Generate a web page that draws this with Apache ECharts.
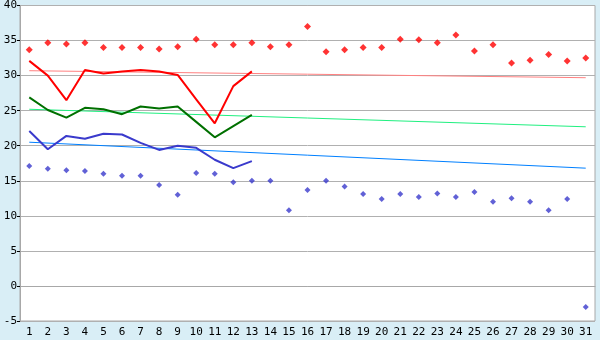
<!DOCTYPE html>
<html><head><meta charset="utf-8">
<script src="https://cdn.jsdelivr.net/npm/echarts@6/dist/echarts.min.js"></script>
<style>html,body{margin:0;padding:0;background:#d9eef6;}#c{width:600px;height:340px;}</style>
</head><body><div id="c"></div>
<script>
const categories = ['1','2','3','4','5','6','7','8','9','10','11','12','13','14','15','16','17','18','19','20','21','22','23','24','25','26','27','28','29','30','31'];
const redPoints = [33.7,34.7,34.5,34.7,34.0,34.0,34.0,33.8,34.1,35.2,34.4,34.4,34.7,34.1,34.4,37.0,33.4,33.7,34.0,34.0,35.2,35.1,34.7,35.8,33.5,34.4,31.8,32.2,33.0,32.1,32.5];
const bluePoints = [17.1,16.7,16.5,16.4,16.0,15.7,15.7,14.4,13.0,16.1,16.0,14.8,15.0,15.0,10.8,13.7,15.0,14.2,13.1,12.4,13.1,12.7,13.2,12.7,13.4,12.0,12.5,12.0,10.8,12.4,-3.0];
const redLine = [32.1,30.0,26.5,30.8,30.3,30.6,30.8,30.6,30.1,26.6,23.2,28.5,30.6];
const greenLine = [26.9,25.1,24.0,25.4,25.2,24.5,25.6,25.3,25.6,23.4,21.2,22.8,24.4];
const blueLine = [22.1,19.5,21.4,21.0,21.7,21.6,20.4,19.4,20.0,19.7,18.0,16.8,17.8];
// trend endpoints (first and last day)
const redTrend = [30.7, 29.7];
const greenTrend = [25.2, 22.7];
const blueTrend = [20.5, 16.8];
const yTicks = {min: -5, max: 40, interval: 5};

function endpoints(pair){
  const a = new Array(categories.length).fill(null);
  a[0] = pair[0]; a[categories.length-1] = pair[1];
  return a;
}

const chart = echarts.init(document.getElementById('c'));
const font = 'DejaVu Sans Mono';
chart.setOption({
  backgroundColor: '#d9eef6',
  animation: false,
  grid: {left: 20, right: 5, top: 5, bottom: 19, show: true, backgroundColor: '#ffffff', borderColor: '#a8a8a8', borderWidth: 1},
  xAxis: {
    type: 'category', data: categories, boundaryGap: true,
    axisLine: {lineStyle: {color: '#a8a8a8'}},
    axisTick: {alignWithLabel: true, length: 5, lineStyle: {color: '#000'}},
    axisLabel: {color: '#000', fontFamily: font, fontSize: 11, margin: 6, interval: 0}
  },
  yAxis: {
    type: 'value', min: yTicks.min, max: yTicks.max, interval: yTicks.interval,
    axisLine: {show: true, lineStyle: {color: '#a8a8a8'}},
    axisTick: {show: true, length: 3, lineStyle: {color: '#000'}},
    axisLabel: {color: '#000', fontFamily: font, fontSize: 11, margin: 3},
    splitLine: {lineStyle: {color: '#b0b0b0'}}
  },
  series: [
    {type: 'line', data: endpoints(redTrend), connectNulls: true, symbol: 'none', lineStyle: {color: '#ff8080', width: 1}, z: 1},
    {type: 'line', data: endpoints(greenTrend), connectNulls: true, symbol: 'none', lineStyle: {color: '#20f080', width: 1}, z: 1},
    {type: 'line', data: endpoints(blueTrend), connectNulls: true, symbol: 'none', lineStyle: {color: '#0080ff', width: 1}, z: 1},
    {type: 'line', data: redLine, symbol: 'none', lineStyle: {color: '#ff0000', width: 2}, z: 2},
    {type: 'line', data: greenLine, symbol: 'none', lineStyle: {color: '#007000', width: 2}, z: 2},
    {type: 'line', data: blueLine, symbol: 'none', lineStyle: {color: '#3a3acc', width: 2}, z: 2},
    {type: 'scatter', data: redPoints, symbol: 'diamond', symbolSize: 7, itemStyle: {color: '#ff0000'}, z: 3},
    {type: 'scatter', data: bluePoints, symbol: 'diamond', symbolSize: 6, itemStyle: {color: '#3a3acc'}, z: 3}
  ]
});
</script></body></html>
